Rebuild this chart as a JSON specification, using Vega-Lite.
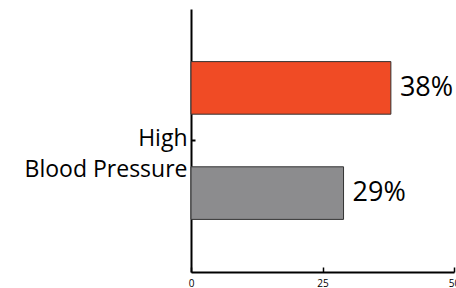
{
  "$schema": "https://vega.github.io/schema/vega-lite/v6.json",
  "width": 263,
  "height": 263,
  "autosize": "none",
  "padding": {"left": 191, "top": 9, "right": 2, "bottom": 16},
  "config": {"view": {"stroke": null}, "font": "Open Sans"},
  "data": {"values": [
    {"cat": "High\u00a0|Blood Pressure", "group": "a", "value": 38, "label": "38%"},
    {"cat": "High\u00a0|Blood Pressure", "group": "b", "value": 29, "label": "29%"}
  ]},
  "encoding": {
    "y": {"field": "cat", "type": "nominal", "title": null,
      "scale": {"paddingInner": 0, "paddingOuter": 0},
      "axis": {"labelExpr": "split(datum.label, '|')", "labelFontSize": 23, "labelColor": "#000", "labelLineHeight": 31, "labelBaseline": "alphabetic", "labelOffset": 5, "labelPadding": 8, "tickSize": -4, "tickColor": "#000", "tickWidth": 2, "domainColor": "#000", "domainWidth": 2, "labelFont": "Open Sans"}},
    "yOffset": {"field": "group", "type": "nominal", "sort": ["a", "b"], "scale": {"paddingInner": 0.5, "paddingOuter": 0.5}}
  },
  "layer": [
    {"mark": {"type": "bar", "stroke": "#333", "strokeWidth": 1},
     "encoding": {
       "x": {"field": "value", "type": "quantitative", "title": null,
         "scale": {"domain": [0, 50], "nice": false},
         "axis": {"values": [0, 25, 50], "grid": false, "labelFlush": false, "tickSize": -5, "tickColor": "#000", "tickWidth": 1.5, "domainColor": "#000", "domainWidth": 2, "labelFontSize": 10, "labelColor": "#000", "labelPadding": 11, "labelFont": "Open Sans"}},
       "color": {"field": "group", "type": "nominal", "legend": null, "scale": {"domain": ["a", "b"], "range": ["#f04b25", "#8c8c8e"]}}
     }},
    {"mark": {"type": "text", "align": "left", "baseline": "middle", "dx": 9, "fontSize": 27, "font": "Open Sans", "color": "#000"},
     "encoding": {
       "x": {"field": "value", "type": "quantitative"},
       "text": {"field": "label"}
     }}
  ]
}
